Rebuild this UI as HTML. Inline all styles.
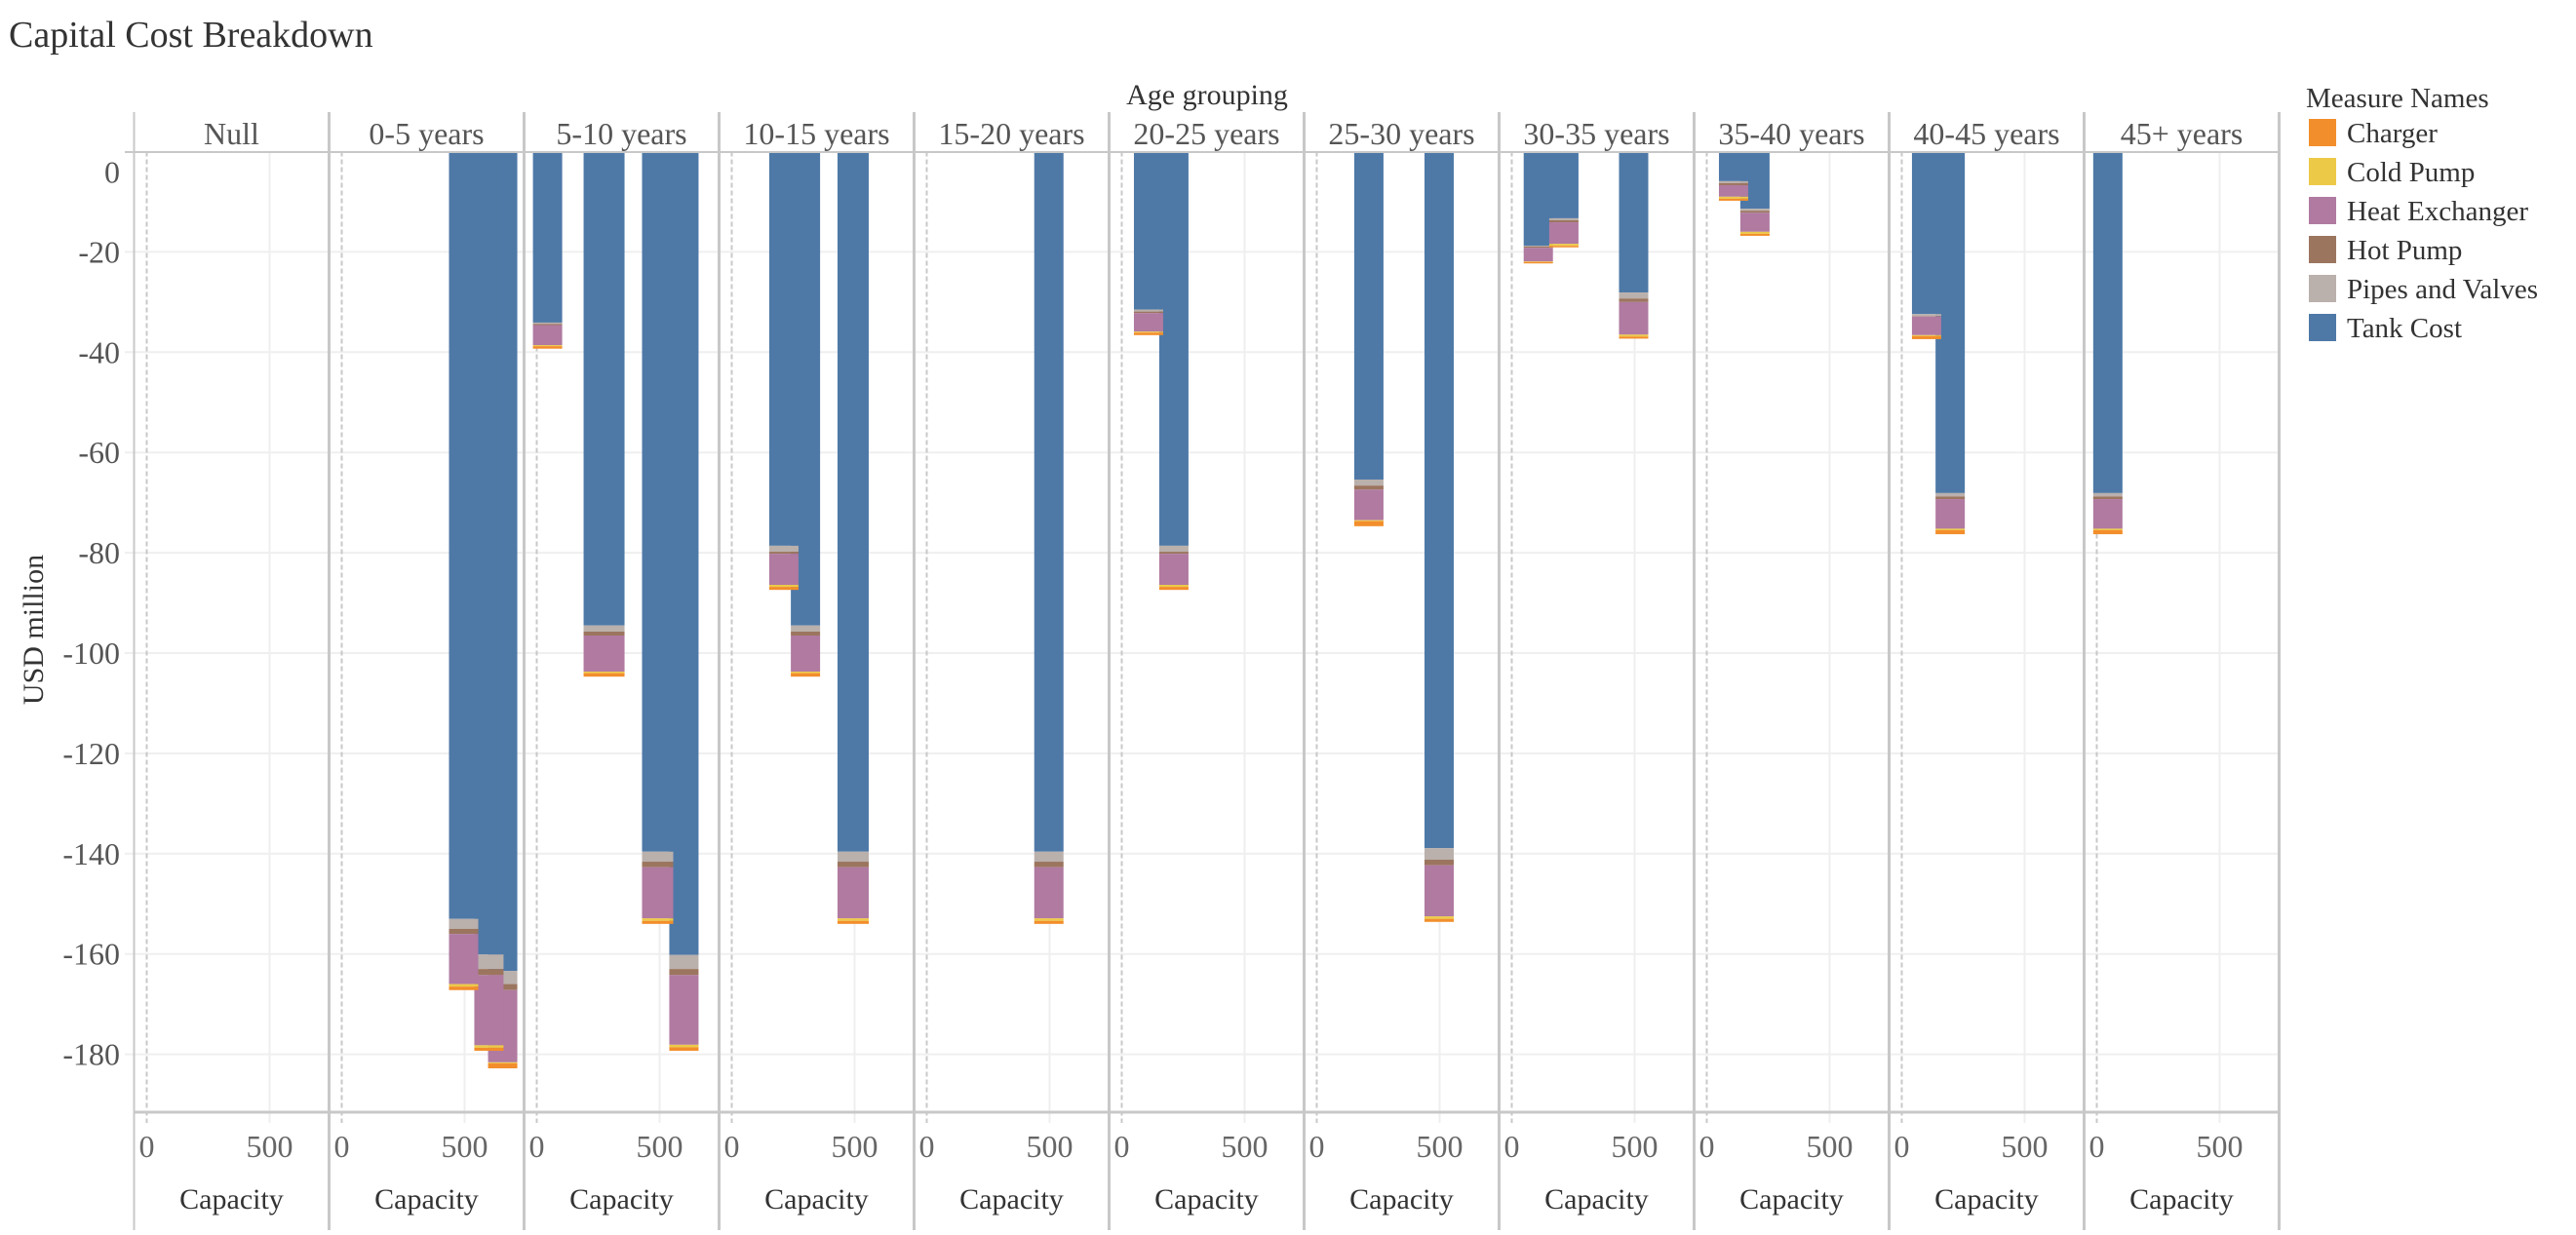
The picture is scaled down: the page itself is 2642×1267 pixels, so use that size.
<!DOCTYPE html>
<html><head><meta charset="utf-8"><style>
html,body{margin:0;padding:0;background:#fff;}
svg, svg text{font-family:"Liberation Serif","DejaVu Serif",serif !important;}
</style></head><body>
<svg id="chart" width="2642" height="1262" viewBox="0 0 2642 1262" xmlns="http://www.w3.org/2000/svg" font-family="Liberation Serif, serif">
<text x="9" y="48" font-size="38" fill="#333">Capital Cost Breakdown</text>
<text x="1238" y="107" font-size="30" fill="#333" text-anchor="middle">Age grouping</text>
<text transform="translate(44,646) rotate(-90)" font-size="30" fill="#333" text-anchor="middle">USD million</text>
<g id="grid"></g><g id="bars"></g><g id="frame"></g><g id="legend"></g>
</svg>
<script>
const groups = ["Null","0-5 years","5-10 years","10-15 years","15-20 years","20-25 years","25-30 years","30-35 years","35-40 years","40-45 years","45+ years"];
const barGroup = [1,1,1,2,2,2,2,3,3,3,4,5,5,6,6,7,7,7,8,8,9,9,10];
const capacity = [496,599,655,44,274,492,599,212,300,494,497,109,212,212,498,108,212,496,109,196,101,197,45];
const tankCost = [153.0,160.1,163.4,34.1,94.5,139.6,160.2,78.6,94.5,139.6,139.6,31.5,78.6,65.4,138.9,18.8,13.3,28.1,5.9,11.4,32.4,68.1,68.1];
const pipesValves = [2.0,2.9,2.6,0.3,1.2,2.0,2.8,1.2,1.2,2.0,2.0,0.4,1.2,1.2,2.3,0.1,0.4,1.2,0.4,0.4,0.4,0.7,0.7];
const hotPump = [1.0,1.2,1.2,0.2,0.8,1.1,1.2,0.4,0.8,1.1,1.1,0.3,0.4,0.8,1.1,0.3,0.4,0.7,0.4,0.4,0.1,0.5,0.5];
const heatExchanger = [10.0,14.0,14.4,4.0,7.2,10.2,13.9,6.2,7.2,10.2,10.2,3.7,6.2,6.1,10.2,2.7,4.3,6.5,2.3,3.8,3.7,5.9,5.9];
const coldPump = [0.5,0.5,0.2,0.2,0.3,0.5,0.5,0.4,0.3,0.5,0.5,0.2,0.4,0.2,0.5,0.1,0.4,0.4,0.4,0.4,0.2,0.3,0.3];
const charger = [0.7,0.6,1.0,0.5,0.7,0.6,0.7,0.6,0.7,0.6,0.6,0.5,0.6,1.0,0.6,0.3,0.3,0.4,0.4,0.4,0.6,0.8,0.8];
const yTicks = [0,-20,-40,-60,-80,-100,-120,-140,-160,-180];
const xTicks = [0,500];
const measureNames = ["Charger","Cold Pump","Heat Exchanger","Hot Pump","Pipes and Valves","Tank Cost"];

const barWidthPx = [30,30,30,30,42,32,30,30,30,32,30,30,30,30,30,30,30,30,30,30,30,30,30];
const colors = {"Tank Cost":"#4e79a7","Pipes and Valves":"#bab0ac","Hot Pump":"#9c755f","Heat Exchanger":"#b07aa1","Cold Pump":"#edc948","Charger":"#f28e2b"};
const NS="http://www.w3.org/2000/svg";
const PL=137.5, PW=200, TOP=155.5, BOT=1141, PPU=5.145, XPU=0.252, X0OFF=13;
function yScale(v){return TOP - v*PPU;}
function xScale(g,c){return PL+g*PW+X0OFF+c*XPU;}
function mk(tag,attrs,parent){const e=document.createElementNS(NS,tag);for(const k in attrs)e.setAttribute(k,attrs[k]);parent.appendChild(e);return e;}
const grid=document.getElementById('grid'),bars=document.getElementById('bars'),frame=document.getElementById('frame'),legend=document.getElementById('legend');
const right=PL+groups.length*PW;
yTicks.forEach(t=>{
  const y=yScale(t);
  if(t!==0){const l=mk('line',{x1:128,x2:right,y1:y,y2:y,stroke:'#efefef','stroke-width':2},grid);
  
  }
  const tx=mk('text',{x:123,y:(t===0?y+32:y+11),'font-size':32,fill:'#555','text-anchor':'end'},grid);
  tx.textContent=t;
  
  
});
groups.forEach((g,i)=>{
  const left=PL+i*PW;
  xTicks.forEach(c=>{
    const x=xScale(i,c);
    const l=mk('line',{x1:x,x2:x,y1:TOP,y2:1152,stroke:c===0?'#c8c8c8':'#efefef','stroke-width':2,'stroke-dasharray':c===0?'5,3':'none'},grid);
    
    
    const tx=mk('text',{x:x,y:1187,'font-size':32,fill:'#666','text-anchor':'middle'},frame);
    tx.textContent=c;
    
    
  });
  const h=mk('text',{x:left+PW/2,y:148,'font-size':32,fill:'#555','text-anchor':'middle'},frame);
  h.textContent=g;
  
  
  const cap=mk('text',{x:left+PW/2,y:1240,'font-size':30,fill:'#333','text-anchor':'middle'},frame);
  cap.textContent='Capacity';
  
  
  const sep=mk('line',{x1:left,x2:left,y1:115,y2:1262,stroke:'#c8c8c8','stroke-width':i===0?2:3},frame);
  
  
});
const rs=mk('line',{x1:right,x2:right,y1:115,y2:1262,stroke:'#c8c8c8','stroke-width':3},frame);


const hb=mk('line',{x1:128,x2:right,y1:156,y2:156,stroke:'#c8c8c8','stroke-width':2},frame);


const bb=mk('line',{x1:PL,x2:right,y1:BOT,y2:BOT,stroke:'#c8c8c8','stroke-width':3},frame);


const series=[["Tank Cost",tankCost],["Pipes and Valves",pipesValves],["Hot Pump",hotPump],["Heat Exchanger",heatExchanger],["Cold Pump",coldPump],["Charger",charger]];
const idx=capacity.map((_,i)=>i);
const total=i=>series.reduce((s,[,a])=>s+a[i],0);
idx.sort((a,b)=>total(b)-total(a));
idx.forEach(i=>{
  const w=barWidthPx[i], cx=xScale(barGroup[i],capacity[i]);
  let acc=0;
  series.forEach(([name,arr])=>{
    const y1=yScale(-acc), y2=yScale(-(acc+arr[i]));
    acc+=arr[i];
    const r=mk('rect',{x:cx-w/2,y:y1,width:w,height:Math.max(0,y2-y1),fill:colors[name]},bars);
    
    
  });
});
const lt=mk('text',{x:2365,y:110,'font-size':29,fill:'#333'},legend);
lt.textContent='Measure Names';


measureNames.forEach((m,k)=>{
  const y=122+k*40;
  const sw=mk('rect',{x:2368,y:y,width:28,height:28,fill:colors[m]},legend);
  
  
  const tx=mk('text',{x:2407,y:y+24,'font-size':29,fill:'#333'},legend);
  tx.textContent=m;
  
  
});
</script>
</body></html>
